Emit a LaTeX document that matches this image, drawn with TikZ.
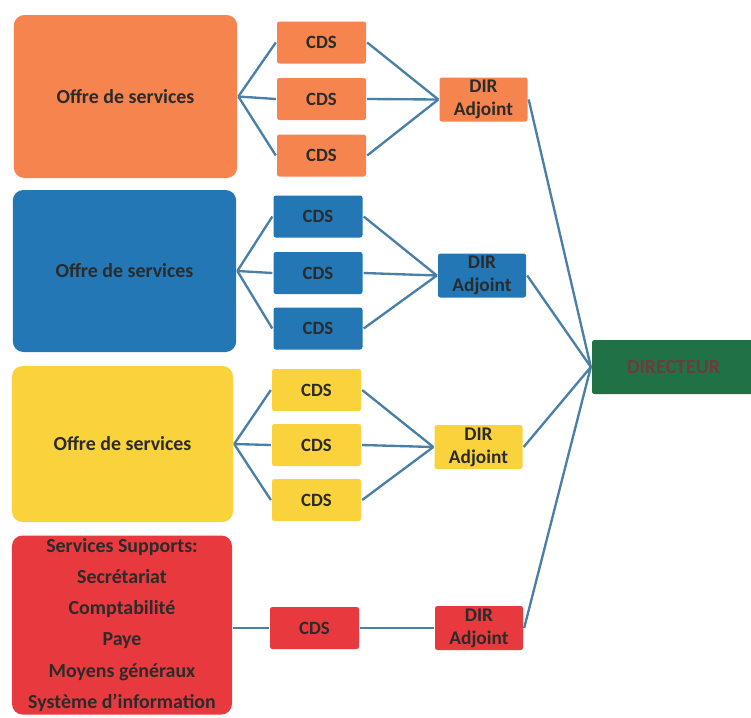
\documentclass[tikz,border=0pt]{standalone}
\usepackage{fontspec}
\setmainfont{Carlito}
\usepackage{tikz}
\usetikzlibrary{positioning}

\definecolor{offreorange}{HTML}{F5844F}
\definecolor{offreblue}{HTML}{2277B4}
\definecolor{offreyellow}{HTML}{FAD23C}
\definecolor{supportred}{HTML}{E83A3E}
\definecolor{dirgreen}{HTML}{217147}
\definecolor{linkblue}{HTML}{4A7FA8}
\definecolor{textdark}{HTML}{2B2B2B}
\definecolor{textbrown}{HTML}{6E3A3C}

\begin{document}
\begin{tikzpicture}[x=0.03cm,y=-0.03cm,line width=2pt,
	every node/.style={font=\bfseries\fontsize{17}{20}\selectfont,text=textdark,inner sep=0pt},
	offre/.style={rounded corners=9pt,minimum width=6.7cm},
	cds/.style={rounded corners=2pt,minimum width=2.67cm,minimum height=1.26cm,font=\bfseries\fontsize{16}{19}\selectfont},
	dir/.style={rounded corners=2pt,minimum width=2.64cm,minimum height=1.32cm,align=center,font=\bfseries\fontsize{16.5}{19.5}\selectfont},
	link/.style={draw=linkblue}]

	\useasboundingbox (0,0) rectangle (751,717);

	\node[offre,fill=offreorange,minimum height=4.89cm] (o1) at (125.5,96.5) {Offre de services};
	\node[cds,fill=offreorange] (o1c1) at (321.5,42.5) {CDS};
	\node[cds,fill=offreorange] (o1c2) at (321.5,99) {CDS};
	\node[cds,fill=offreorange] (o1c3) at (321.5,155.5) {CDS};
	\node[dir,fill=offreorange] (o1d) at (483.5,99.5) {DIR\\Adjoint};

	\node[offre,fill=offreblue,minimum height=4.86cm] (o2) at (124.5,271) {Offre de services};
	\node[cds,fill=offreblue] (o2c1) at (318,216.5) {CDS};
	\node[cds,fill=offreblue] (o2c2) at (318,273) {CDS};
	\node[cds,fill=offreblue] (o2c3) at (318,328.5) {CDS};
	\node[dir,fill=offreblue] (o2d) at (482,275.5) {DIR\\Adjoint};

	\node[offre,fill=offreyellow,minimum height=4.68cm,minimum width=6.63cm] (o3) at (122.5,444) {Offre de services};
	\node[cds,fill=offreyellow] (o3c1) at (316.5,390) {CDS};
	\node[cds,fill=offreyellow] (o3c2) at (316.5,445) {CDS};
	\node[cds,fill=offreyellow] (o3c3) at (316.5,500) {CDS};
	\node[dir,fill=offreyellow] (o3d) at (478.5,447) {DIR\\Adjoint};

	\node[offre,fill=supportred,minimum height=5.37cm,minimum width=6.6cm,align=center,
		font=\bfseries\fontsize{17}{26.5}\selectfont] (sup) at (122,625)
		{Services Supports:\\Secrétariat\\Comptabilité\\Paye\\Moyens généraux\\Système d'information};
	\node[cds,fill=supportred] (supc) at (314.5,628) {CDS};
	\node[dir,fill=supportred] (supd) at (479,628) {DIR\\Adjoint};

	\node[fill=dirgreen,rounded corners=2pt,minimum width=4.89cm,minimum height=1.62cm,
		text=textbrown,font=\bfseries\fontsize{17}{20}\selectfont,text width=4.89cm,align=center] (dir) at (673.5,367) {DIRECTEUR};

	\foreach \o in {o1,o2,o3}{
		\foreach \c in {1,2,3}{
			\path[link] (\o.east) edge (\o c\c.west)
				(\o c\c.east) edge (\o d.west);
		}
		\path[link] (\o d.east) edge (dir.west);
	}
	\path[link] (sup.east |- supc.west) edge (supc.west)
		(supc.east) edge (supd.west)
		(supd.east) edge (dir.west);
\end{tikzpicture}
\end{document}
